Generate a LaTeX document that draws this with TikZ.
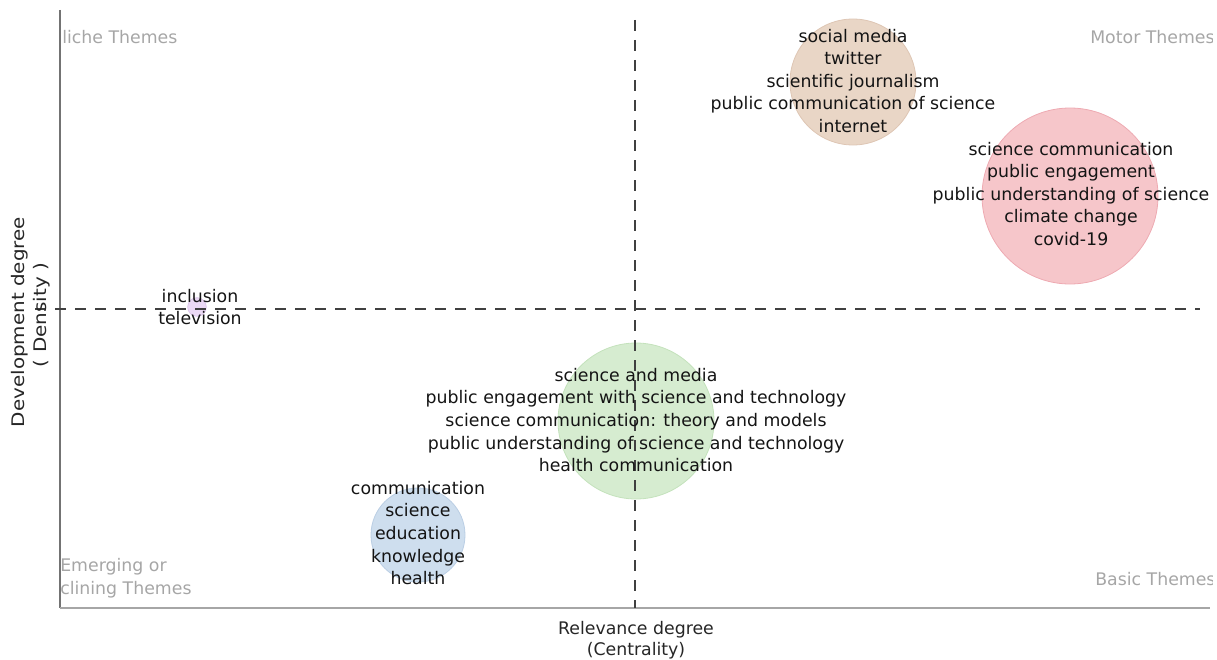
\documentclass[tikz,border=0pt]{standalone}
\usepackage{fontspec}
\setmainfont{DejaVu Sans}
\begin{document}
\begin{tikzpicture}[x=0.75pt,y=-0.75pt,
  lbl/.style={text=black!92, font=\fontsize{13}{16.9}\selectfont, align=center, inner sep=0pt},
  quad/.style={text=black!35, font=\fontsize{13}{16.9}\selectfont, align=left, inner sep=0pt, anchor=west},
  axlbl/.style={text=black!85, font=\fontsize{13}{16}\selectfont, align=center, inner sep=0pt},
  bubble/.style={circle, inner sep=0pt, line width=0.6pt},
  dsh/.style={draw=black!75, line width=1.5pt, dash pattern=on 8.5pt off 6.5pt}
]
\useasboundingbox (0,0) rectangle (1217,660);
% bubbles
\node[bubble, fill={rgb,255:red,233;green,214;blue,198}, draw={rgb,255:red,222;green,198;blue,180}, minimum size=94.5pt] (b1) at (853,82) {};
\node[bubble, fill={rgb,255:red,246;green,198;blue,202}, draw={rgb,255:red,238;green,170;blue,178}, minimum size=132pt] (b2) at (1070,196) {};
\node[bubble, fill={rgb,255:red,214;green,236;blue,208}, draw={rgb,255:red,196;green,226;blue,188}, minimum size=117pt] (b3) at (636,421) {};
\node[bubble, fill={rgb,255:red,206;green,222;blue,238}, draw={rgb,255:red,186;green,206;blue,228}, minimum size=70.5pt] (b4) at (418,535) {};
\node[bubble, fill={rgb,255:red,234;green,216;blue,244}, draw={rgb,255:red,220;green,198;blue,234}, minimum size=14pt] (b5) at (197,307) {};
% axes
\coordinate (ytop) at (60,10);
\coordinate (orig) at (60,608);
\coordinate (xend) at (1210,608);
\draw[black!55, line width=0.9pt] (ytop) -- (orig);
\draw[black!35, line width=1.6pt] (orig) -- (xend);
% dashed quadrant lines
\coordinate (vtop) at (635,20);
\coordinate (vbot) at (635,608);
\coordinate (hl) at (35,309);
\coordinate (hr) at (1200,309);
\draw[dsh] (vtop) -- (vbot);
\draw[dsh] (hl) -- (hr);
% labels
\node[lbl] (t1) at (853,81) {social media\\twitter\\scientific journalism\\public communication of science\\internet};
\node[lbl] (t2) at (1071,194) {science communication\\public engagement\\public understanding of science\\climate change\\covid-19};
\node[lbl] (t3) at (636,420) {science and media\\public engagement with science and technology\\science communication: theory and models\\public understanding of science and technology\\health communication};
\node[lbl] (t4) at (418,533) {communication\\science\\education\\knowledge\\health};
\node[lbl] (t5) at (200,307) {inclusion\\television};
% quadrant labels
\begin{scope}
\clip (60,0) rectangle (1212,660);
\node[quad] (q1) at (62,37) {liche Themes};
\node[quad] (q2) at (1090,37) {Motor Themes};
\node[quad] (q3) at (60,567) {Emerging or};
\node[quad] (q4) at (60,590) {clining Themes};
\node[quad] (q5) at (1095,579) {Basic Themes};
\end{scope}
% axis labels
\node[axlbl] (xl) at (636,640) {Relevance degree\\(Centrality)};
\node[axlbl, rotate=90] (yl1) at (20,322) {\scalebox{1.15}[1]{Development degree}};
\node[axlbl, rotate=90] (yl2) at (42,315) {\scalebox{1.15}[1]{( Density )}};
\end{tikzpicture}
\end{document}
